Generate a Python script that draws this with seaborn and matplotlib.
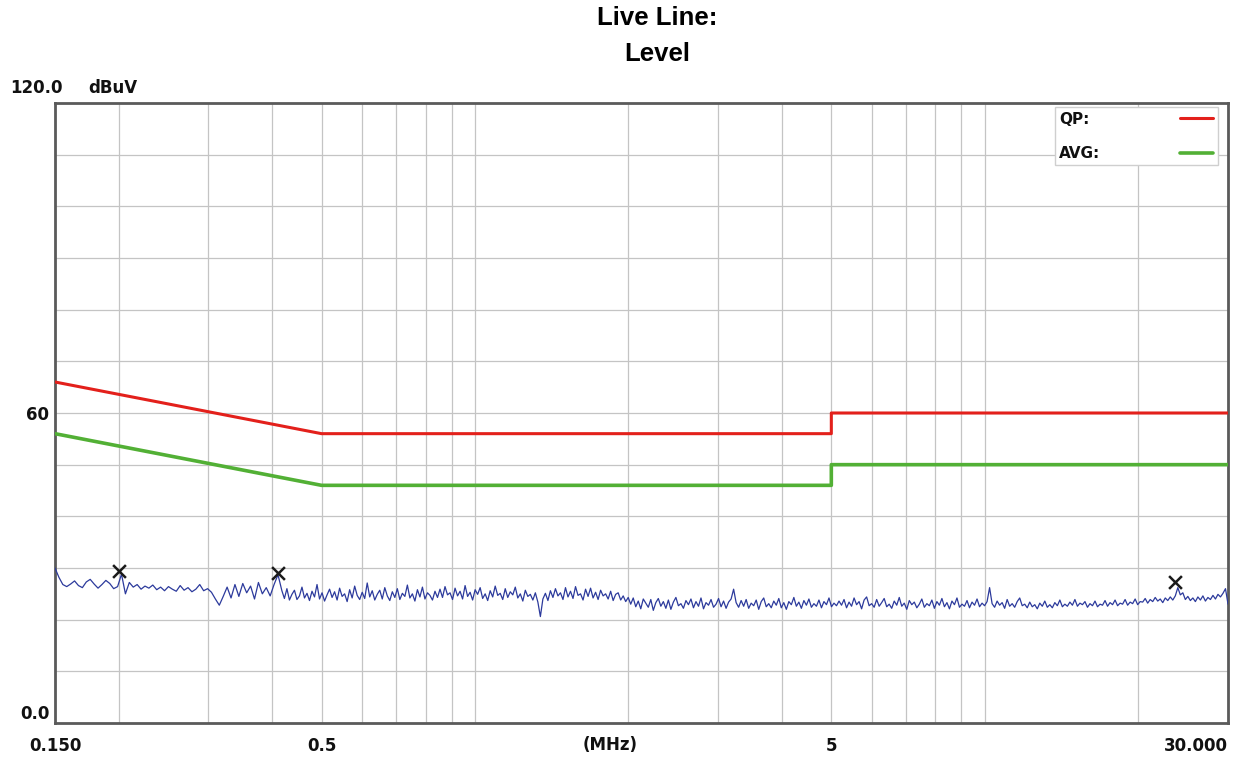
import numpy as np
import pandas as pd
import matplotlib
matplotlib.use("Agg")
import matplotlib.pyplot as plt
import seaborn as sns

# ---------------- data ----------------
f_start, f_break, f_stop = 0.15, 0.418, 30.0     # MHz sweep (two sweep segments)
trace_level_a = [
    30.0, 28.2, 26.8, 26.4, 26.9, 27.5, 26.6, 26.2, 27.3, 27.8, 26.9, 26.1, 26.8, 27.6, 27.0, 26.0, 26.4,
    28.8,
    25.0, 27.2, 26.3, 26.8, 25.9, 26.5, 26.1, 26.7, 25.8, 26.3, 25.6, 26.4, 25.9, 25.5, 26.6, 25.7, 26.2,
    25.4, 25.9, 26.8, 25.6, 26.0, 25.3,
    24.0, 22.8, 24.5, 26.3, 24.2,
    26.8, 24.5, 27.0, 25.2, 26.5, 24.0, 27.2, 25.0, 26.2, 24.6,
    26.8, 28.7,
]
trace_level_b = [
    # 0.42 - 0.85 MHz
    25.6, 24.1, 26.0, 23.8, 24.9, 25.7, 23.9, 24.6, 26.3, 24.2, 25.1, 23.7, 25.5, 24.4, 26.8, 24.0, 25.2, 23.6, 24.8, 25.9,
    24.3, 25.4, 23.8, 26.1, 24.5, 25.0, 23.5, 25.8, 24.2, 26.5, 24.7, 23.9, 25.3, 24.1, 27.1, 24.4, 25.6, 23.8, 24.9, 25.7,
    24.0, 26.2, 24.6, 23.7, 25.4, 24.3, 26.0, 23.9, 25.1, 24.5, 26.7, 24.2, 25.0, 23.6, 25.8, 24.4, 26.3, 24.0, 25.2, 24.7,
    23.8, 25.5, 24.3,
    # 0.85 - 2.1 MHz
    25.9, 24.3, 26.4, 24.8, 25.2, 23.9, 26.1, 24.6, 25.5, 24.0, 26.6, 24.5, 25.3, 23.8, 25.8, 24.9, 26.2, 24.1, 25.0, 23.7,
    25.6, 24.4, 26.5, 24.7, 25.1, 23.9, 26.0, 24.3, 25.4, 24.8, 26.3, 24.2, 25.0, 23.6, 25.7, 24.5, 24.9, 23.8, 25.2, 23.4,
    20.6,
    24.0, 25.1, 23.7, 25.6, 24.3, 26.0, 24.6, 25.2, 23.9, 26.2, 24.4, 25.5, 24.1, 26.4, 24.7, 25.0, 23.8, 25.9, 24.5, 26.1,
    24.2, 25.3, 23.9, 25.7, 24.6, 25.0, 24.0, 25.5, 23.7, 24.9, 25.2, 23.8, 24.6, 23.5, 24.3,
    # 2.1 - 5.3 MHz
    23.0, 24.2, 22.5, 23.6, 22.1, 24.0, 23.2, 22.4, 23.9, 21.8, 23.3, 24.1, 22.6, 23.5, 22.2, 23.8, 22.0, 23.4, 24.3, 22.7,
    23.1, 22.2, 23.7, 22.9, 24.0, 22.3, 23.5, 22.6, 24.2, 22.1, 23.3, 22.8, 23.9, 22.4, 23.0, 24.1, 22.5, 23.6, 22.2, 23.4,
    24.0,
    25.9,
    23.3, 22.4, 23.7, 22.6, 23.9, 22.2, 23.2, 22.7, 23.8, 22.0, 23.5, 24.2, 22.5, 23.1, 22.3, 23.6, 22.8, 24.1, 22.3, 23.3,
    22.0, 23.5, 22.9, 24.3, 22.6, 23.4, 22.2, 23.7, 22.8, 24.0, 22.4, 23.1, 22.6, 23.8, 22.3, 23.5, 22.9, 24.2, 22.5, 23.2,
    22.7, 23.6,
    # 5.3 - 20 MHz
    22.8, 23.9, 22.3, 23.4, 22.6, 24.2, 22.9, 23.5, 22.1, 23.8, 24.4, 22.7, 23.1, 22.4, 23.9, 22.6, 23.3, 24.1, 22.5, 23.0,
    22.2, 23.6, 22.8, 24.3, 22.6, 23.2, 22.0, 23.7, 22.9, 23.4, 22.3, 23.0, 24.0, 22.4, 23.1, 22.7, 23.8, 22.2, 23.5, 22.8,
    24.1, 22.5, 23.3, 22.1, 23.6, 22.9, 24.2, 22.4, 23.0, 22.6, 23.7, 22.3, 23.4, 22.8, 24.0, 22.5, 23.2, 22.7, 23.5,
    26.2,
    23.1, 22.4, 23.6, 22.8, 23.3, 22.2, 23.9, 22.6, 23.1, 22.4, 23.5, 24.2, 22.7, 23.0, 22.3, 23.4, 22.5, 22.9, 22.1, 23.2,
    22.6, 23.6, 22.4, 22.9, 22.3, 23.3, 22.7, 23.8, 22.5, 23.0, 22.6, 23.4, 22.8, 23.9, 22.6, 23.2, 22.9, 23.5, 22.4, 23.1,
    22.7, 23.6, 22.5, 23.0, 22.8, 23.7, 22.6, 23.3, 22.9, 23.8, 22.7, 23.2, 23.0, 23.9, 22.8, 23.4, 23.1, 24.0, 22.9, 23.5,
    # 20 - 30 MHz
    23.4, 24.1, 23.2, 23.9, 23.5, 24.3, 23.6, 24.0, 23.3, 24.2, 23.7, 24.4, 23.8, 24.6,
    26.2,
    24.8, 25.2, 23.9, 24.5, 23.7, 24.2, 23.5, 24.4, 23.8, 24.6, 23.6, 24.3, 23.9, 24.7, 24.0, 24.9, 24.4, 25.1,
    26.0, 23.0,
]
trace_freq = np.concatenate([
    np.geomspace(f_start, f_break, len(trace_level_a), endpoint=False),
    np.geomspace(f_break, f_stop, len(trace_level_b)),
])
trace_level = trace_level_a + trace_level_b

qp_freq = [0.15, 0.5, 0.5, 5.0, 5.0, 30.0]
qp_level = [66, 56, 56, 56, 60, 60]
avg_freq = [0.15, 0.5, 0.5, 5.0, 5.0, 30.0]
avg_level = [56, 46, 46, 46, 50, 50]

peak_freq = [0.20, 0.41, 23.6]
peak_level = [29.5, 29.0, 27.3]

x_tick_vals = [0.15, 0.5, 5, 30]
x_tick_labels = ["0.150", "0.5", "5", "30.000"]
x_minor_vals = [0.2, 0.3, 0.4, 0.6, 0.7, 0.8, 0.9, 1, 2, 3, 4, 6, 7, 8, 9, 10, 20]
y_tick_vals = [0, 60]
y_tick_labels = ["0.0", "60"]
y_grid_vals = list(range(10, 120, 10))

# ---------------- style ----------------
sns.set_style("white")
plt.rcParams["font.family"] = ["DejaVu Sans"]
INK = "#111111"

W, H = 1247, 758
fig = plt.figure(figsize=(W / 100, H / 100), dpi=100)
ax = fig.add_axes([55 / W, 1 - 723 / H, 1173 / W, 620 / H])

trace_df = pd.DataFrame({"freq": trace_freq, "level": trace_level})
qp_df = pd.DataFrame({"freq": qp_freq, "level": qp_level})
avg_df = pd.DataFrame({"freq": avg_freq, "level": avg_level})
pk_df = pd.DataFrame({"freq": peak_freq, "level": peak_level})

sns.lineplot(data=qp_df, x="freq", y="level", ax=ax, color="#e3201b", lw=2.2,
             estimator=None, sort=False, label="QP:", zorder=3)
sns.lineplot(data=avg_df, x="freq", y="level", ax=ax, color="#52b035", lw=2.6,
             estimator=None, sort=False, label="AVG:", zorder=3)
sns.lineplot(data=trace_df, x="freq", y="level", ax=ax, color="#2c3a9c", lw=0.9,
             estimator=None, sort=False, zorder=4)
sns.scatterplot(data=pk_df, x="freq", y="level", ax=ax, marker="x", s=85,
                color="#1a1a1a", linewidth=1.8, zorder=5)

ax.set_xscale("log")
ax.set_xlim(f_start, f_stop)
ax.set_ylim(0, 120)

ax.set_xticks(x_tick_vals)
ax.set_xticklabels(x_tick_labels)
ax.set_xticks(x_minor_vals, minor=True)
ax.set_xticklabels([], minor=True)
ax.set_yticks(y_tick_vals)
ax.set_yticklabels(y_tick_labels)
ax.set_yticks(y_grid_vals, minor=True)
ax.set_yticklabels([], minor=True)

ax.grid(True, which="both", color="#c4c4c4", lw=0.9)
ax.set_axisbelow(True)
ax.tick_params(axis="both", which="both", length=0)
ax.tick_params(axis="x", pad=10)
ax.tick_params(axis="y", pad=4)
for lab in ax.get_xticklabels() + ax.get_yticklabels():
    lab.set_fontweight("bold")
    lab.set_fontsize(12)
    lab.set_color(INK)
ax.get_xticklabels()[-1].set_ha("right")
ax.get_yticklabels()[0].set_va("bottom")
ax.set_xlabel("")
ax.set_ylabel("")

for sp in ax.spines.values():
    sp.set_visible(True)
    sp.set_color("#5a5a5a")
    sp.set_linewidth(2.0)

# axis annotations
ax.text(-45 / 1173, 1 + 15 / 620, "120.0", transform=ax.transAxes, ha="left", va="center",
        fontsize=12, fontweight="bold", color=INK)
ax.text(33 / 1173, 1 + 15 / 620, "dBuV", transform=ax.transAxes, ha="left", va="center",
        fontsize=12, fontweight="bold", color=INK)
ax.text((610 - 55) / 1173, -22 / 620, "(MHz)", transform=ax.transAxes, ha="center", va="center",
        fontsize=12, fontweight="bold", color=INK)

leg = ax.legend(loc="upper right", bbox_to_anchor=(0.9915, 0.9935), borderaxespad=0,
                markerfirst=False, frameon=True, fancybox=False, framealpha=1,
                edgecolor="#cfcfcf", prop={"weight": "bold", "size": 11},
                handlelength=2.2, handletextpad=5.2, borderpad=0.3, labelspacing=1.26)
leg.get_frame().set_linewidth(1.0)
for t in leg.get_texts():
    t.set_color(INK)

# title
fig.text(657 / W, 1 - 18 / H, "Live Line:", ha="center", va="center", fontsize=18.5,
         fontweight="bold", color="black", family=["Liberation Sans", "DejaVu Sans"])
fig.text(657 / W, 1 - 54 / H, "Level", ha="center", va="center", fontsize=18.5,
         fontweight="bold", color="black", family=["Liberation Sans", "DejaVu Sans"])

# left-align legend labels while keeping line handles right-aligned
fig.canvas.draw()
rend = fig.canvas.get_renderer()
widths = [t.get_window_extent(rend).width for t in leg.get_texts()]
rows = leg._legend_handle_box.get_children()[0].get_children()
for row, wdt in zip(rows, widths):
    row.sep += (max(widths) - wdt) * 72 / fig.dpi

fig.savefig("out.png", dpi=100)
